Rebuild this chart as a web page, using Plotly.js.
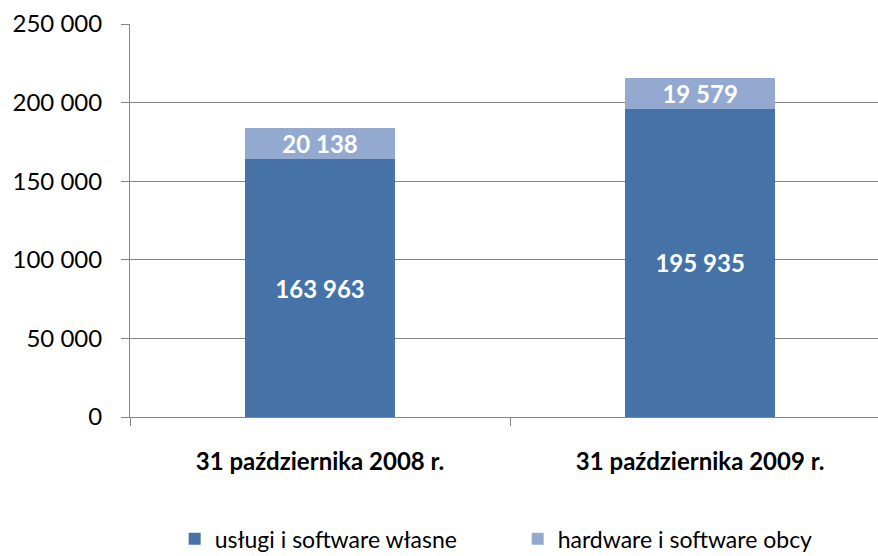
<!DOCTYPE html>
<html>
<head>
<meta charset="utf-8">
<script src="https://cdn.plot.ly/plotly-3.0.1.min.js"></script>
<style>html,body{margin:0;padding:0;background:#fff;}#chart{width:878px;height:556px;}</style>
</head>
<body>
<div id="chart"></div>
<script>
const categories = ["31 października 2008 r.", "31 października 2009 r."];
const seriesNames = ["usługi i software własne", "hardware i software obcy"];
const ownValues = [163963, 195935];
const foreignValues = [20138, 19579];
const yTickVals = [0, 50000, 100000, 150000, 200000, 250000];
const yTickText = ["0", "50 000", "100 000", "150 000", "200 000", "250 000"];

function fmt(v) { return String(v).replace(/\B(?=(\d{3})+(?!\d))/g, " "); }

const font = "Lato, 'Noto Sans', sans-serif";

const traces = [
  {
    type: "bar", name: seriesNames[0], x: categories, y: ownValues,
    text: ownValues.map(fmt), textposition: "inside", insidetextanchor: "middle",
    constraintext: "none",
    textfont: {family: font, size: 24, color: "#ffffff", weight: "bold"},
    marker: {color: "#4572A7", line: {width: 0}},
    hoverinfo: "skip", width: 0.395
  },
  {
    type: "bar", name: seriesNames[1], x: categories, y: foreignValues,
    text: foreignValues.map(fmt), textposition: "inside", insidetextanchor: "middle",
    constraintext: "none",
    textfont: {family: font, size: 24, color: "#ffffff", weight: "bold"},
    marker: {color: "#93A9CF", line: {width: 0}},
    hoverinfo: "skip", width: 0.395
  }
];

const layout = {
  width: 878, height: 556,
  margin: {l: 130, r: 0, t: 24, b: 139, pad: 0, autoexpand: false},
  paper_bgcolor: "#ffffff", plot_bgcolor: "#ffffff",
  barmode: "stack",
  showlegend: true,
  font: {family: font, size: 16, color: "#000000"},
  xaxis: {
    type: "category", range: [-0.5, 1.468], automargin: false,
    showgrid: false, showline: true, linecolor: "#868686", linewidth: 1,
    ticks: "outside", tickson: "boundaries", ticklen: 8, tickcolor: "#868686",
    tickfont: {family: font, size: 24, color: "#000000", weight: "bold"},
    ticklabelstandoff: 23, zeroline: false, fixedrange: true
  },
  yaxis: {
    range: [0, 250000], tickvals: yTickVals, ticktext: yTickText, automargin: false,
    showgrid: true, gridcolor: "#868686", gridwidth: 1,
    showline: true, linecolor: "#868686", linewidth: 1,
    ticks: "outside", ticklen: 8, tickcolor: "#868686",
    tickfont: {family: font, size: 24, color: "#000000"},
    ticklabelstandoff: 14, zeroline: false, fixedrange: true
  },
  legend: {
    orientation: "h", x: 0.0597, xanchor: "left", y: -0.31, yanchor: "middle",
    font: {family: font, size: 23, color: "#000000"},
    traceorder: "normal", entrywidth: 298, entrywidthmode: "pixels",
    bgcolor: "rgba(0,0,0,0)"
  }
};

Plotly.newPlot("chart", traces, layout, {displayModeBar: false, staticPlot: true});
</script>
</body>
</html>
